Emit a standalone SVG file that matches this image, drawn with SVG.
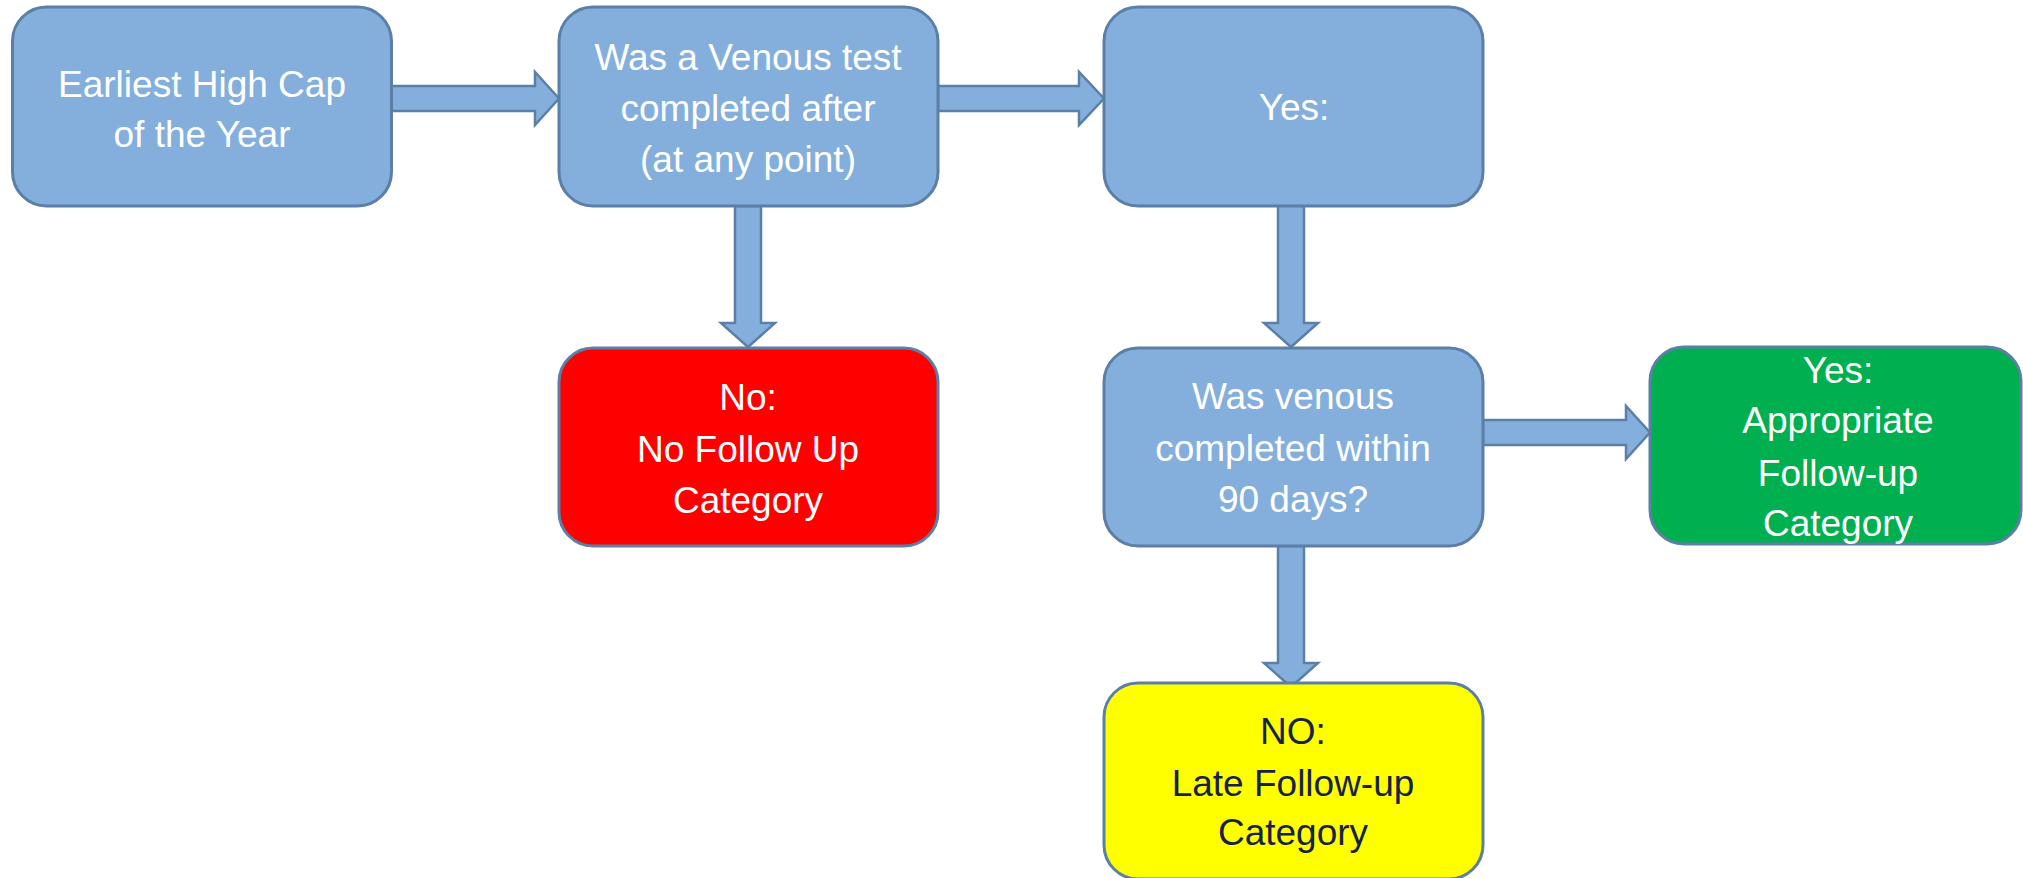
<svg xmlns="http://www.w3.org/2000/svg" width="2023" height="878" viewBox="0 0 2023 878">
<style>
.box{stroke:#5B7FA6;stroke-width:3}
.blue{fill:#84AFDC}
.arrow{fill:#84AFDC;stroke:#5B7FA6;stroke-width:2.5;stroke-linejoin:miter}
text{font-family:"Liberation Sans",Arial,sans-serif;font-size:37px;fill:#FFFFFF;text-anchor:middle}
.dark{fill:#17224A}
</style>
<rect width="2023" height="878" fill="#FFFFFF"/>
<g id="connectors">
<polygon class="arrow" points="391,86 535,86 535,72 559,98.5 535,125 535,111 391,111"/>
<polygon class="arrow" points="938,86 1079,86 1079,72 1104,98.5 1079,125 1079,111 938,111"/>
<polygon class="arrow" points="735,206 761,206 761,323 775,323 748,347 721,323 735,323"/>
<polygon class="arrow" points="1278,205 1304,205 1304,323 1318,323 1291,347 1264,323 1278,323"/>
<polygon class="arrow" points="1483,420 1626,420 1626,406 1650,432.5 1626,459 1626,445 1483,445"/>
<polygon class="arrow" points="1278,546 1304,546 1304,663 1318,663 1291,687 1264,663 1278,663"/>
</g>
<g id="node-earliest">
<rect class="box blue" x="12.5" y="7" width="379" height="199" rx="34"/>
<text x="202" y="97">Earliest High Cap</text>
<text x="202" y="147">of the Year</text>
</g>
<g id="node-venous-test">
<rect class="box blue" x="559" y="7" width="379" height="199" rx="34"/>
<text x="748" y="70">Was a Venous test</text>
<text x="748" y="121">completed after</text>
<text x="748" y="172">(at any point)</text>
</g>
<g id="node-yes">
<rect class="box blue" x="1104" y="7" width="379" height="199" rx="34"/>
<text x="1294" y="120">Yes:</text>
</g>
<g id="node-no-follow-up">
<rect class="box" fill="#FF0000" x="559" y="348" width="379" height="198" rx="34"/>
<text x="748" y="410">No:</text>
<text x="748" y="462">No Follow Up</text>
<text x="748" y="513">Category</text>
</g>
<g id="node-within-90">
<rect class="box blue" x="1104" y="348" width="379" height="198" rx="34"/>
<text x="1293" y="409">Was venous</text>
<text x="1293" y="461">completed within</text>
<text x="1293" y="512">90 days?</text>
</g>
<g id="node-appropriate">
<rect class="box" fill="#00B050" x="1650" y="347" width="371" height="197" rx="34"/>
<text x="1838" y="383">Yes:</text>
<text x="1838" y="433">Appropriate</text>
<text x="1838" y="486">Follow-up</text>
<text x="1838" y="536">Category</text>
</g>
<g id="node-late">
<rect class="box" fill="#FFFF00" x="1104" y="683" width="379" height="196" rx="34"/>
<text class="dark" x="1293" y="744">NO:</text>
<text class="dark" x="1293" y="796">Late Follow-up</text>
<text class="dark" x="1293" y="845">Category</text>
</g>
</svg>
